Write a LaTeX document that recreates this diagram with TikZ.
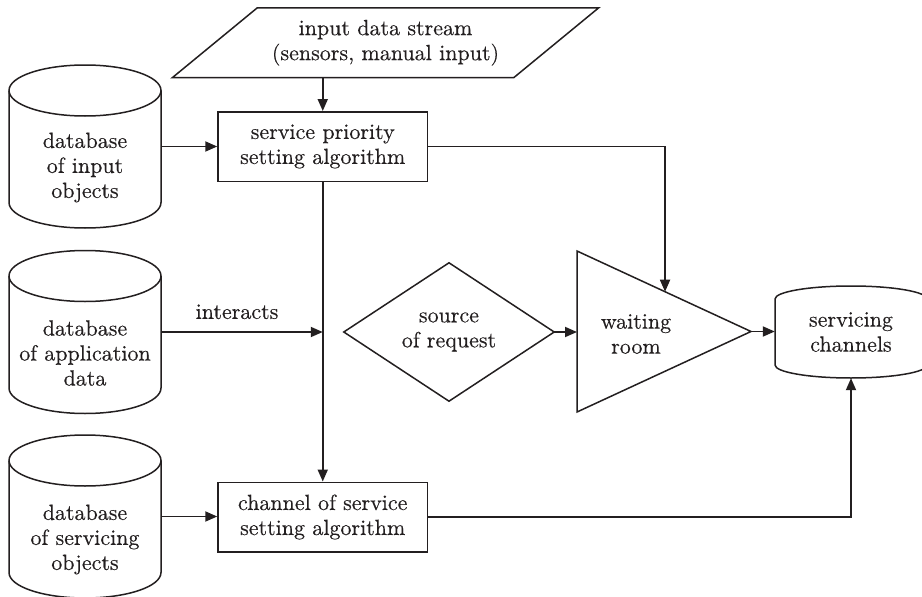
\documentclass[tikz,border=0pt]{standalone}
\usepackage{fontspec}
\setmainfont{lmroman10-regular.otf}[FakeBold=0.3]
\usetikzlibrary{arrows.meta,calc}
\definecolor{ink}{RGB}{35,31,32}
\tikzset{
  lnk/.style={draw=ink, line width=1.8pt, -{Triangle[length=12pt,width=10pt]}},
  outline/.style={draw=ink, line width=1.5pt},
  lbl/.style={text=ink, align=center, font=\fontsize{22}{25}\selectfont, inner sep=0pt},
  ghost/.style={inner sep=0pt, outer sep=0pt},
  procbox/.style={outline, lbl, minimum width=209.5pt, minimum height=69.5pt},
  pics/dbcyl/.style={code={
    \draw[outline, fill=white] (-76,-56) -- (-76,56)
      arc[start angle=180, end angle=360, x radius=76pt, y radius=25.5pt]
      -- (76,-56)
      arc[start angle=0, end angle=180, x radius=76pt, y radius=25.5pt] -- cycle;
    \draw[outline] (-76,-56)
      arc[start angle=180, end angle=360, x radius=76pt, y radius=25.5pt];
  }},
}
\begin{document}
\begin{tikzpicture}[x=1pt, y=-1pt]
  \fill[white] (0,0) rectangle (922,597);
  \clip (0,0) rectangle (922,597);

  % input stream (parallelogram)
  \node[lbl, minimum width=341pt, minimum height=69.5pt] (input) at (385.5,42.75)
    {input data stream\\(sensors, manual input)};
  \draw[outline] ([xshift=-42.5pt]input.south west) -- ([xshift=-42.5pt]input.south east)
    -- ([xshift=42.5pt]input.north east) -- ([xshift=42.5pt]input.north west) -- cycle;

  % algorithm boxes
  \node[procbox] (box1) at (322.75,146.5) {service priority\\setting algorithm};
  \node[procbox] (box2) at (322.75,517) {channel of service\\setting algorithm};

  % databases
  \node[ghost, minimum width=152pt, minimum height=163pt] (db1) at (85,146.5) {};
  \pic at (db1.center) {dbcyl};
  \node[lbl] (db1t) at ([yshift=-21pt]db1.center) {database\\of input\\objects};

  \node[ghost, minimum width=152pt, minimum height=163pt] (db2) at (85,332) {};
  \pic at (db2.center) {dbcyl};
  \node[lbl] (db2t) at ([yshift=-21pt]db2.center) {database\\of application\\data};

  \node[ghost, minimum width=152pt, minimum height=163pt] (db3) at (85,516.5) {};
  \pic at (db3.center) {dbcyl};
  \node[lbl] (db3t) at ([yshift=-23pt]db3.center) {database\\of servicing\\objects};

  % source of request (diamond)
  \node[lbl, minimum width=210pt, minimum height=138pt] (src) at (449,332) {source\\of request};
  \draw[outline] (src.north) -- (src.east) -- (src.south) -- (src.west) -- cycle;

  % waiting room (triangle)
  \node[ghost, minimum width=174pt, minimum height=161pt] (wroom) at (664,331.5) {};
  \draw[outline] (wroom.north west) -- (wroom.east) -- (wroom.south west) -- cycle;
  \node[lbl] (wroomt) at (636,334) {waiting\\room};
  \coordinate (wtop) at ($(wroom.north west)!0.506!(wroom.east)$);

  % servicing channels (drum)
  \node[lbl, minimum width=152pt, minimum height=92pt] (chan) at (851,332) {servicing\\channels};
  \draw[outline] (775,299) -- (775,365)
    arc[start angle=180, end angle=360, x radius=76pt, y radius=13pt]
    -- (927,299)
    arc[start angle=0, end angle=180, x radius=76pt, y radius=13pt] -- cycle;

  % connectors
  \draw[lnk] (input.south -| box1.north) -- (box1.north);
  \draw[lnk] (db1.east) -- (db1.east -| box1.west);
  \draw[lnk] (box1.south) -- (box2.north);
  \draw[lnk] (db2.east) -- (db2.east -| box1.south)
    node[lbl, pos=0.47, above=12pt] (intl) {interacts};
  \draw[lnk] (db3.east) -- (db3.east -| box2.west);
  \draw[lnk] (box1.east) -| (wtop);
  \draw[lnk] (src.east) -- (src.east -| wroom.west);
  \draw[lnk] (wroom.east) -- (wroom.east -| chan.west);
  \draw[lnk] (box2.east) -| (chan.south);
\end{tikzpicture}
\end{document}
